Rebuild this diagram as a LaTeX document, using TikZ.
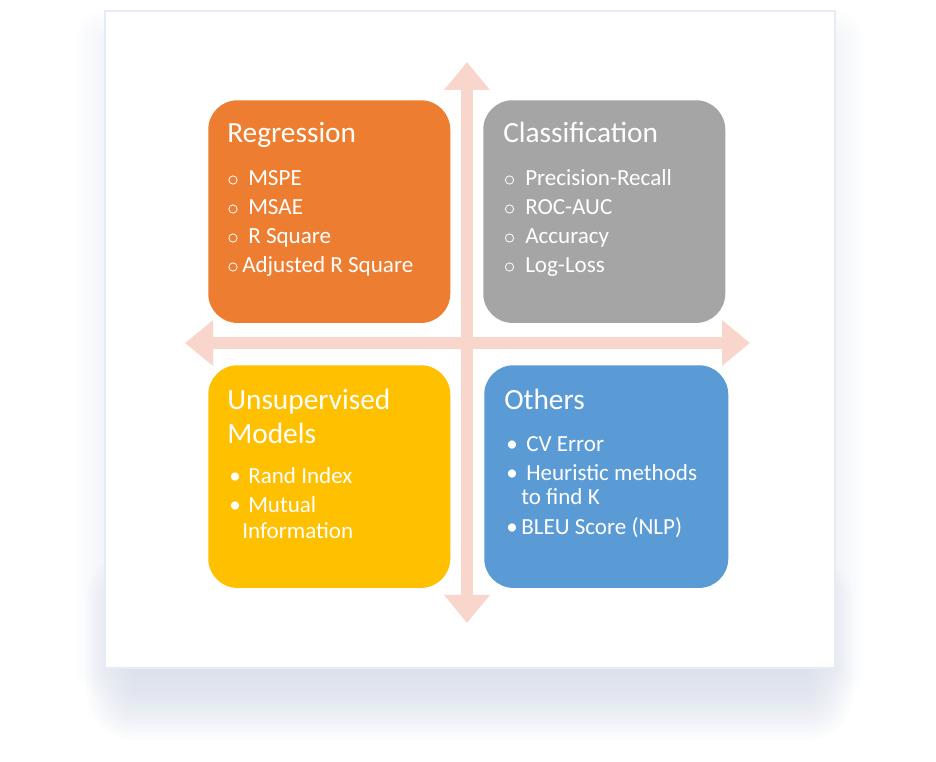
\documentclass[tikz,border=0pt]{standalone}
\usepackage{fontspec}
\setmainfont{Carlito}
\usepackage{xcolor}
\usetikzlibrary{arrows.meta,positioning}
\definecolor{regorange}{HTML}{ED7D31}
\definecolor{clsgray}{HTML}{A5A5A5}
\definecolor{unsyellow}{HTML}{FFC000}
\definecolor{othblue}{HTML}{5B9BD5}
\definecolor{axispink}{HTML}{F9D6CB}
\definecolor{cardline}{HTML}{E6ECF6}
\definecolor{shadowgray}{HTML}{C7CFE0}
\tikzset{
  quad/.style={rounded corners=22pt,minimum width=181.5pt,minimum height=167pt,inner sep=0pt,anchor=north west},
  ttl/.style={white,anchor=base west,inner sep=0pt,font=\fontsize{22}{26}\selectfont},
  itm/.style={white,anchor=base west,inner sep=0pt,font=\fontsize{17.3}{20}\selectfont},
  ring/.style={circle,draw=white,line width=0.6pt,minimum size=6.2pt,inner sep=0pt},
  axis/.style={draw=axispink,line width=8.5pt,{Triangle[width=33pt,length=21pt]}-{Triangle[width=33pt,length=21pt]}}
}

\begin{document}
\begin{tikzpicture}[x=0.75pt,y=-0.75pt]
\useasboundingbox (0,0) rectangle (936,762);
% faint glow round the card, darker band under it
\foreach \i in {1,...,10}{
  \fill[shadowgray,opacity=0.025,rounded corners=\i*2.25pt] (105-3*\i,40-3*\i) rectangle (835+3*\i,668+3*\i);
}
\foreach \i in {0,...,11}{
  \pgfmathsetmacro{\e}{48-4*\i}
  \fill[shadowgray,opacity=0.06,rounded corners=\e*0.75pt] (135-\e,600-\e) rectangle (805+\e,692+\e);
}
\filldraw[fill=white,draw=cardline,line width=1.2pt] (105,11) rectangle (835,668);
% axes
\coordinate (top) at (467,62); \coordinate (bot) at (467,623);
\coordinate (lft) at (185,343); \coordinate (rgt) at (750,343);
\draw[axis] (bot)--(top);
\draw[axis] (lft)--(rgt);
% four quadrants
\node[quad,fill=regorange] (reg) at (208,100) {};
\node[quad,fill=clsgray] (cls) at (483,100) {};
\node[quad,fill=unsyellow] (uns) at (208,365) {};
\node[quad,fill=othblue,minimum width=183pt] (oth) at (484,365) {};
% Regression
\node[ttl] (regt) at (227,143) {Regression};
\foreach \y/\t [count=\k] in {186/MSPE,215/MSAE,244/R Square}{
  \node[ring] (regb\k) at (233,\y-6) {};
  \node[itm] (regi\k) at (248,\y) {\t};
}
\node[ring] (regb4) at (233,267) {};
\node[itm] (regi4) at (242,273) {Adjusted R Square};
% Classification
\node[ttl] (clst) at (503,143) {Classification};
\foreach \y/\t [count=\k] in {186/Precision-Recall,215/ROC-AUC,244/Accuracy,273/Log-Loss}{
  \node[ring] (clsb\k) at (509.5,\y-6) {};
  \node[itm] (clsi\k) at (525,\y) {\t};
}
% Unsupervised Models
\node[ttl] (unst) at (227,410) {Unsupervised};
\node[ttl] (unst2) at (227,444) {Models};
\node[itm] (unsb1) at (229,484) {•};
\node[itm] (unsi1) at (248,484) {Rand Index};
\node[itm] (unsb2) at (229,513) {•};
\node[itm] (unsi2) at (248,513) {Mutual};
\node[itm] (unsi3) at (242,539) {Information};
% Others
\node[ttl] (otht) at (504,410) {Others};
\node[itm] (othb1) at (506,452) {•};
\node[itm] (othi1) at (526,452) {CV Error};
\node[itm] (othb2) at (506,481) {•};
\node[itm] (othi2) at (526,481) {Heuristic methods};
\node[itm] (othi3) at (521,505) {to find K};
\node[itm] (othb3) at (506,535) {•};
\node[itm] (othi4) at (521,535) {BLEU Score (NLP)};
\end{tikzpicture}
\end{document}
